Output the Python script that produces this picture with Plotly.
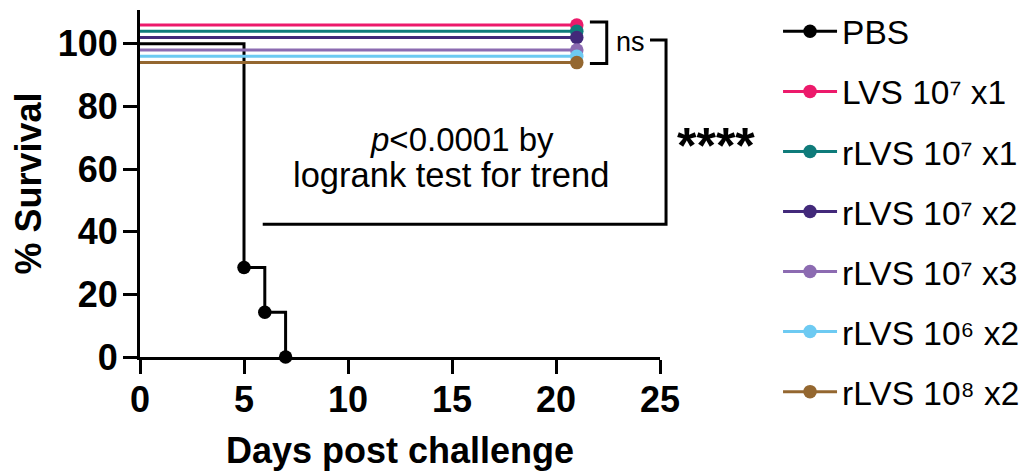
import plotly.graph_objects as go

# ---------------- data ----------------
group_names = ["PBS", "LVS 10⁷ x1", "rLVS 10⁷ x1", "rLVS 10⁷ x2",
               "rLVS 10⁷ x3", "rLVS 10⁶ x2", "rLVS 10⁸ x2"]
group_colors = ["#000000", "#EC1A6B", "#0F7B7A", "#42297A", "#8C6BB1", "#6DCAF2", "#946730"]

pbs_days = [0, 5, 6, 7]
pbs_survival = [100, 28.57, 14.29, 0]
pbs_event_days = [5, 6, 7]
pbs_event_survival = [28.57, 14.29, 0]

vaccine_days = [0, 21]
vaccine_survival = [100, 100]
vaccine_end_day = [21]
vaccine_end_survival = [100]
# GraphPad-style vertical nudge so overlapping 100% curves stay visible
vaccine_nudge = [6, 4, 2, -2, -4, -6]

x_ticks = [0, 5, 10, 15, 20, 25]
y_ticks = [0, 20, 40, 60, 80, 100]
X_RANGE = [0, 25]
Y_RANGE = [0, 110.8]

FONT = "Liberation Sans, Arial, sans-serif"
LW = 3
MS = 13.5

fig = go.Figure()

def add_group(i, xs, ys, mx, my):
    c = group_colors[i]
    fig.add_trace(go.Scatter(x=xs, y=ys, mode="lines", line_shape="hv",
                             line=dict(color=c, width=LW), showlegend=False,
                             legendgroup=f"g{i}", hoverinfo="skip"))
    fig.add_trace(go.Scatter(x=mx, y=my, mode="markers",
                             marker=dict(size=MS, color=c, opacity=1, line=dict(width=0)),
                             showlegend=False, legendgroup=f"g{i}", cliponaxis=False))
    # legend entry
    fig.add_trace(go.Scatter(x=[None], y=[None], mode="lines+markers",
                             line=dict(color=c, width=LW),
                             marker=dict(size=MS, color=c, opacity=1, line=dict(width=0)),
                             name=group_names[i], legendgroup=f"g{i}"))

add_group(0, pbs_days, pbs_survival, pbs_event_days, pbs_event_survival)
for i in range(1, len(group_names)):
    nud = vaccine_nudge[i - 1]
    add_group(i, vaccine_days, [v + nud for v in vaccine_survival],
              vaccine_end_day, [v + nud for v in vaccine_end_survival])

# helpers to convert data coords to paper coords (so brackets outside plot area are not clipped)
def px(x):
    return (x - X_RANGE[0]) / (X_RANGE[1] - X_RANGE[0])

def py(y):
    return (y - Y_RANGE[0]) / (Y_RANGE[1] - Y_RANGE[0])

def bracket(points):
    d = "M " + " L ".join(f"{px(a)},{py(b)}" for a, b in points)
    return dict(type="path", xref="paper", yref="paper", path=d,
                line=dict(color="black", width=LW), layer="above")

shapes = [
    bracket([(21.63, 107.0), (22.44, 107.0), (22.44, 93.7), (21.63, 93.7)]),
    bracket([(24.52, 101.2), (25.29, 101.2), (25.29, 42.4), (5.9, 42.4)]),
]

def note(x, y, text, size, bold=False):
    f = dict(family=FONT, size=size, color="black")
    if bold:
        f["weight"] = "bold"
    return dict(x=px(x), y=py(y), xref="paper", yref="paper", text=text, showarrow=False,
                xanchor="center", yanchor="middle", font=f)

annotations = [
    note(23.56, 100.6, "ns", 27),
    note(27.7, 67.4, "****", 50, bold=True),
    note(15.5, 69.6, "<i>p</i><0.0001 by", 33),
    note(14.97, 58.0, "logrank test for trend", 34.5),
]

fig.update_layout(
    width=1028, height=473,
    margin=dict(l=132, r=376, t=2, b=124, autoexpand=False),
    paper_bgcolor="white", plot_bgcolor="white",
    font=dict(family=FONT, color="black"),
    shapes=shapes, annotations=annotations,
    showlegend=True,
    legend=dict(x=1.227, y=1.02, xanchor="left", yanchor="top",
                font=dict(family=FONT, size=33.5, color="black"),
                tracegroupgap=13.5, itemwidth=54, bgcolor="rgba(0,0,0,0)",
                maxheight=1.0),
)

fig.update_xaxes(
    range=X_RANGE, tickvals=x_ticks, showgrid=False, zeroline=False, automargin=False,
    showline=True, linecolor="black", linewidth=LW,
    ticks="outside", ticklen=14, tickwidth=LW, tickcolor="black", ticklabelstandoff=-5,
    tickfont=dict(family=FONT, size=36, color="black", weight="bold"),
    title=dict(text="Days post challenge", standoff=19,
               font=dict(family=FONT, size=36, color="black", weight="bold")),
)
fig.update_yaxes(
    range=Y_RANGE, tickvals=y_ticks, showgrid=False, zeroline=False, automargin=False,
    showline=True, linecolor="black", linewidth=LW,
    ticks="outside", ticklen=14, tickwidth=LW, tickcolor="black", ticklabelstandoff=-2,
    tickfont=dict(family=FONT, size=36, color="black", weight="bold"),
    title=dict(text="% Survival", standoff=6,
               font=dict(family=FONT, size=36, color="black", weight="bold")),
)

fig.write_html("out.html")
